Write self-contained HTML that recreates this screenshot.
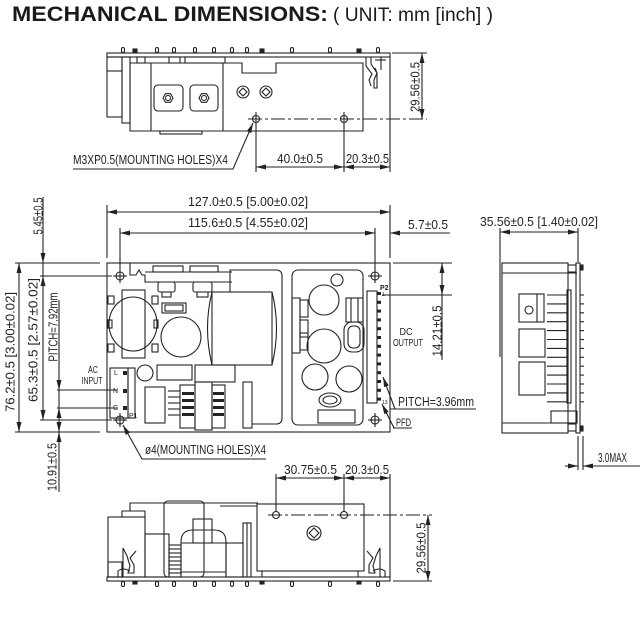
<!DOCTYPE html>
<html><head><meta charset="utf-8"><style>
html,body{margin:0;padding:0;background:#fff;}
svg{display:block;}
.d{font-family:"Liberation Sans",sans-serif;font-size:13px;fill:#222;}
</style></head><body>
<svg width="640" height="640" viewBox="0 0 640 640" xmlns="http://www.w3.org/2000/svg">
<defs>
<marker id="a" markerUnits="userSpaceOnUse" markerWidth="10" markerHeight="5" refX="10" refY="2.5" orient="auto-start-reverse" viewBox="0 0 10 5"><path d="M0,0L10,2.5L0,5z" fill="#222"/></marker>
</defs>
<rect width="640" height="640" fill="#fff"/>
<text x="12" y="21" font-family="Liberation Sans, sans-serif" font-weight="bold" font-size="21" fill="#1a1a1a" textLength="316" lengthAdjust="spacingAndGlyphs">MECHANICAL DIMENSIONS:</text>
<text x="333" y="21" font-family="Liberation Sans, sans-serif" font-size="19" fill="#1a1a1a" textLength="160" lengthAdjust="spacingAndGlyphs">( UNIT: mm [inch] )</text>

<g fill="none" stroke="#222" stroke-width="1.1">
<!-- ===== TOP VIEW ===== -->
<rect x="107" y="53" width="283" height="4"/>
<g>
<rect x="121.5" y="47.5" width="3" height="5" rx="1.5"/>
<rect x="155.5" y="47.5" width="3" height="5" rx="1.5"/>
<rect x="172.5" y="47.5" width="3" height="5" rx="1.5"/>
<rect x="193.5" y="47.5" width="3" height="5" rx="1.5"/>
<rect x="212.5" y="47.5" width="3" height="5" rx="1.5"/>
<rect x="230.5" y="47.5" width="3" height="5" rx="1.5"/>
<rect x="245.5" y="47.5" width="3" height="5" rx="1.5"/>
<rect x="290.5" y="47.5" width="3" height="5" rx="1.5"/>
<rect x="328.5" y="47.5" width="3" height="5" rx="1.5"/>
<rect x="376.5" y="47.5" width="3" height="5" rx="1.5"/>
<rect x="133" y="49" width="4" height="4" fill="#222"/>
<rect x="260" y="49" width="4" height="4" fill="#222"/>
<rect x="357" y="49" width="4" height="4" fill="#222"/>
</g>
<rect x="107" y="57" width="15" height="60"/>
<line x1="107" y1="71" x2="122" y2="71"/>
<rect x="122" y="57" width="8" height="66"/>
<path d="M130,63 H242 V73 H276 V63 H363 V131 H130 Z"/>
<rect x="137" y="57" width="8" height="6"/>
<rect x="169" y="57" width="11" height="6"/>
<rect x="185" y="57" width="40" height="6"/>
<line x1="151" y1="63" x2="151" y2="131"/>
<line x1="223" y1="63" x2="223" y2="131"/>
<rect x="160" y="131" width="42" height="3"/>
<rect x="154" y="85" width="29" height="26" rx="4"/>
<rect x="190" y="85" width="28" height="26" rx="4"/>
<polygon points="173,98 170.5,102.3 165.5,102.3 163,98 165.5,93.7 170.5,93.7"/>
<circle cx="168" cy="98" r="2.5"/>
<polygon points="209,98 206.5,102.3 201.5,102.3 199,98 201.5,93.7 206.5,93.7"/>
<circle cx="204" cy="98" r="2.5"/>
<circle cx="243" cy="92" r="6"/>
<path d="M243,88 L247,92 L243,96 L239,92 Z"/>
<circle cx="266" cy="92" r="6"/>
<path d="M266,88 L270,92 L266,96 L262,92 Z"/>
<circle cx="256" cy="119" r="3.5"/>
<circle cx="344" cy="119" r="3.5"/>
<line x1="248" y1="119" x2="427" y2="119" stroke-dasharray="14 3 3 3"/>
<path d="M366,57 V66 L372,74 L369,80 L371,86"/>
<path d="M371,57 V64 L377,73 L374,80 V88 H377 V73 L375,68"/>
<line x1="381" y1="57" x2="381" y2="70"/>
<line x1="375" y1="60" x2="386" y2="60"/>
<!-- top dims -->
<line x1="392" y1="53" x2="427" y2="53"/>
<line x1="422" y1="53" x2="422" y2="119" marker-start="url(#a)" marker-end="url(#a)"/>
<line x1="256" y1="112" x2="256" y2="172"/>
<line x1="344" y1="112" x2="344" y2="172"/>
<line x1="390" y1="57" x2="390" y2="172"/>
<line x1="256" y1="167" x2="344" y2="167" marker-start="url(#a)" marker-end="url(#a)"/>
<line x1="344" y1="167" x2="390" y2="167" marker-start="url(#a)" marker-end="url(#a)"/>
<polyline points="73,169 233,169 253,123" marker-end="url(#a)"/>

<!-- ===== MAIN VIEW ===== -->
<rect x="107" y="263" width="283" height="169"/>
<circle cx="120" cy="276" r="4"/><line x1="113" y1="276" x2="127" y2="276"/><line x1="120" y1="269" x2="120" y2="283"/>
<circle cx="375" cy="276" r="4"/><line x1="368" y1="276" x2="382" y2="276"/><line x1="375" y1="269" x2="375" y2="283"/>
<circle cx="120" cy="420" r="4"/><line x1="113" y1="420" x2="127" y2="420"/><line x1="120" y1="413" x2="120" y2="427"/>
<circle cx="375" cy="420" r="4"/><line x1="368" y1="420" x2="382" y2="420"/><line x1="375" y1="413" x2="375" y2="427"/>
<path d="M130,263 V275 L136,275 L139,270 L142,275 H145 V282 H232"/>
<line x1="145" y1="272" x2="232" y2="272"/>
<rect x="153" y="266" width="30" height="6"/>
<rect x="190" y="266" width="28" height="6"/>
<rect x="158" y="282" width="17" height="10" rx="2"/>
<rect x="193" y="282" width="19" height="10" rx="2"/>
<rect x="162" y="292" width="9" height="5"/>
<rect x="197" y="292" width="11" height="5"/>
<ellipse cx="133" cy="324" rx="24" ry="27"/>
<rect x="122" y="290" width="23" height="68"/>
<rect x="108" y="296" width="6" height="8"/>
<rect x="152" y="296" width="6" height="8"/>
<rect x="108" y="320" width="4" height="8"/>
<rect x="154" y="320" width="4" height="8"/>
<rect x="108" y="344" width="6" height="8"/>
<rect x="152" y="344" width="6" height="8"/>
<rect x="162" y="303" width="24" height="10"/>
<rect x="165" y="305" width="18" height="6"/>
<circle cx="181" cy="337" r="20"/>
<path d="M230,292 V270 H276 Q282,270 282,276 V418 Q282,424 276,424 H252"/>
<rect x="212" y="292" width="60" height="73"/>
<path d="M212,292 Q203,328 212,365 M272,292 Q281,328 272,365"/>
<circle cx="145" cy="373" r="8"/>
<rect x="157" y="365" width="35" height="15"/>
<rect x="195" y="365" width="40" height="17"/>
<rect x="145" y="387" width="20" height="36"/>
<rect x="180" y="385" width="15" height="43"/>
<rect x="195" y="382" width="17" height="48"/>
<rect x="212" y="385" width="13" height="43"/>
<rect x="243" y="382" width="9" height="46"/>
<line x1="168" y1="391" x2="180" y2="391"/><line x1="168" y1="397" x2="180" y2="397"/><line x1="168" y1="403" x2="180" y2="403"/><line x1="168" y1="409" x2="180" y2="409"/><line x1="168" y1="415" x2="180" y2="415"/>
<g fill="#222" stroke="none">
<rect x="182" y="392" width="12" height="3"/><rect x="182" y="399" width="12" height="3"/><rect x="182" y="406" width="12" height="3"/><rect x="182" y="413" width="12" height="3"/>
<rect x="213" y="392" width="11" height="3"/><rect x="213" y="399" width="11" height="3"/><rect x="213" y="406" width="11" height="3"/><rect x="213" y="413" width="11" height="3"/>
</g>
<rect x="110" y="368" width="18" height="50"/>
<rect x="128" y="368" width="7" height="50"/>
<rect x="292" y="270" width="71" height="155" rx="6"/>
<rect x="292" y="298" width="8" height="55"/>
<rect x="300" y="300" width="8" height="17"/>
<rect x="300" y="320" width="8" height="17"/>
<rect x="300" y="333" width="8" height="17"/>
<circle cx="337" cy="280" r="6"/>
<circle cx="324" cy="300" r="15"/>
<circle cx="324" cy="346" r="17"/>
<circle cx="315" cy="377" r="13"/>
<circle cx="349" cy="379" r="13"/>
<rect x="346" y="298" width="17" height="24"/>
<line x1="351" y1="298" x2="351" y2="322"/><line x1="358" y1="298" x2="358" y2="322"/>
<rect x="344" y="322" width="20" height="30" rx="8"/>
<rect x="348" y="326" width="12" height="22" rx="5"/>
<ellipse cx="330" cy="400" rx="11" ry="7"/>
<ellipse cx="330" cy="400" rx="7" ry="4"/>
<rect x="318" y="410" width="37" height="13"/>
<rect x="367" y="291" width="10" height="112"/>
<g fill="#222" stroke="none">
<rect x="377" y="292" width="4" height="3"/><rect x="377" y="300.8" width="4" height="3"/><rect x="377" y="309.6" width="4" height="3"/><rect x="377" y="318.4" width="4" height="3"/><rect x="377" y="327.2" width="4" height="3"/><rect x="377" y="336" width="4" height="3"/><rect x="377" y="344.8" width="4" height="3"/><rect x="377" y="353.6" width="4" height="3"/><rect x="377" y="362.4" width="4" height="3"/><rect x="377" y="371.2" width="4" height="3"/><rect x="377" y="380" width="4" height="3"/><rect x="377" y="388.8" width="4" height="3"/><rect x="377" y="397.6" width="4" height="3"/>
<rect x="123" y="371" width="4" height="4"/><rect x="123" y="389" width="4" height="4"/><rect x="123" y="406" width="4" height="4"/>
</g>

<line x1="107" y1="205" x2="107" y2="258"/>
<line x1="390" y1="205" x2="390" y2="258"/>
<line x1="120" y1="228" x2="120" y2="269"/>
<line x1="375" y1="228" x2="375" y2="269"/>
<line x1="107" y1="212" x2="390" y2="212" marker-start="url(#a)" marker-end="url(#a)"/>
<line x1="120" y1="233" x2="375" y2="233" marker-start="url(#a)" marker-end="url(#a)"/>
<line x1="450" y1="233" x2="390" y2="233" marker-end="url(#a)"/>
<line x1="15" y1="263" x2="100" y2="263"/>
<line x1="15" y1="432" x2="100" y2="432"/>
<line x1="40" y1="276" x2="112" y2="276"/>
<line x1="40" y1="420" x2="112" y2="420"/>
<line x1="57" y1="390" x2="117" y2="390"/>
<line x1="57" y1="408" x2="117" y2="408"/>
<line x1="19" y1="263" x2="19" y2="432" marker-start="url(#a)" marker-end="url(#a)"/>
<line x1="43" y1="197" x2="43" y2="263" marker-end="url(#a)"/>
<line x1="43" y1="263" x2="43" y2="276"/>
<line x1="43" y1="276" x2="43" y2="420" marker-start="url(#a)" marker-end="url(#a)"/>
<line x1="59" y1="300" x2="59" y2="390" marker-end="url(#a)"/>
<line x1="59" y1="390" x2="59" y2="408"/>
<line x1="59" y1="420" x2="59" y2="408" marker-end="url(#a)"/>
<line x1="59" y1="420" x2="59" y2="432" marker-end="url(#a)"/>
<line x1="59" y1="492" x2="59" y2="432" marker-end="url(#a)"/>
<line x1="393" y1="263" x2="452" y2="263"/>
<line x1="382" y1="295" x2="452" y2="295"/>
<line x1="442" y1="263" x2="442" y2="295" marker-start="url(#a)" marker-end="url(#a)"/>
<line x1="442" y1="295" x2="442" y2="360"/>
<line x1="390" y1="409" x2="476" y2="409"/>
<line x1="395" y1="409" x2="383" y2="377" marker-end="url(#a)"/>
<line x1="393" y1="428" x2="412" y2="428"/>
<line x1="394" y1="428" x2="382" y2="404" marker-end="url(#a)"/>
<polyline points="266,459 142,459 123,425" marker-end="url(#a)"/>

<!-- ===== SIDE VIEW ===== -->
<rect x="502" y="263" width="66" height="170"/>
<line x1="502" y1="273" x2="577" y2="273"/>
<line x1="502" y1="423" x2="577" y2="423"/>
<rect x="568" y="265" width="8" height="7"/>
<rect x="568" y="424" width="8" height="7"/>
<rect x="576" y="263" width="4" height="170"/>
<rect x="580" y="265" width="3" height="5" fill="#222"/>
<rect x="580" y="426" width="3" height="5" fill="#222"/>
<rect x="567" y="290" width="4" height="113"/>
<g>
<line x1="547" y1="295" x2="567" y2="295"/><line x1="547" y1="303.9" x2="567" y2="303.9"/><line x1="547" y1="312.8" x2="567" y2="312.8"/><line x1="547" y1="321.7" x2="567" y2="321.7"/><line x1="547" y1="330.6" x2="567" y2="330.6"/><line x1="547" y1="339.5" x2="567" y2="339.5"/><line x1="547" y1="348.4" x2="567" y2="348.4"/><line x1="547" y1="357.3" x2="567" y2="357.3"/><line x1="547" y1="366.2" x2="567" y2="366.2"/><line x1="547" y1="375.1" x2="567" y2="375.1"/><line x1="547" y1="384" x2="567" y2="384"/><line x1="547" y1="392.9" x2="567" y2="392.9"/><line x1="547" y1="401.8" x2="567" y2="401.8"/>
<line x1="580" y1="295" x2="584" y2="295"/><line x1="580" y1="303.9" x2="584" y2="303.9"/><line x1="580" y1="312.8" x2="584" y2="312.8"/><line x1="580" y1="321.7" x2="584" y2="321.7"/><line x1="580" y1="330.6" x2="584" y2="330.6"/><line x1="580" y1="339.5" x2="584" y2="339.5"/><line x1="580" y1="348.4" x2="584" y2="348.4"/><line x1="580" y1="357.3" x2="584" y2="357.3"/><line x1="580" y1="366.2" x2="584" y2="366.2"/><line x1="580" y1="375.1" x2="584" y2="375.1"/><line x1="580" y1="384" x2="584" y2="384"/><line x1="580" y1="392.9" x2="584" y2="392.9"/><line x1="580" y1="401.8" x2="584" y2="401.8"/>
</g>
<rect x="519" y="294" width="25" height="28"/>
<line x1="537" y1="294" x2="537" y2="322"/>
<circle cx="529" cy="310" r="4"/>
<rect x="519" y="329" width="26" height="28"/>
<rect x="519" y="362" width="26" height="33"/>
<rect x="551" y="411" width="26" height="12"/>
<line x1="500" y1="228" x2="500" y2="357"/>
<line x1="578" y1="228" x2="578" y2="262"/>
<line x1="500" y1="232" x2="578" y2="232" marker-start="url(#a)" marker-end="url(#a)"/>
<line x1="578" y1="436" x2="578" y2="470"/>
<line x1="583" y1="436" x2="583" y2="470"/>
<line x1="565" y1="466" x2="578" y2="466" marker-end="url(#a)"/>
<line x1="640" y1="466" x2="583" y2="466" marker-end="url(#a)"/>

<!-- ===== BOTTOM VIEW ===== -->
<rect x="107" y="577" width="283" height="4"/>
<g>
<rect x="121.5" y="581.5" width="3" height="5" rx="1.5"/>
<rect x="155.5" y="581.5" width="3" height="5" rx="1.5"/>
<rect x="172.5" y="581.5" width="3" height="5" rx="1.5"/>
<rect x="193.5" y="581.5" width="3" height="5" rx="1.5"/>
<rect x="212.5" y="581.5" width="3" height="5" rx="1.5"/>
<rect x="230.5" y="581.5" width="3" height="5" rx="1.5"/>
<rect x="245.5" y="581.5" width="3" height="5" rx="1.5"/>
<rect x="290.5" y="581.5" width="3" height="5" rx="1.5"/>
<rect x="328.5" y="581.5" width="3" height="5" rx="1.5"/>
<rect x="376.5" y="581.5" width="3" height="5" rx="1.5"/>
<rect x="133" y="581" width="4" height="3" fill="#222"/>
<rect x="260" y="581" width="4" height="3" fill="#222"/>
<rect x="357" y="581" width="4" height="3" fill="#222"/>
</g>
<rect x="108" y="517" width="37" height="60"/>
<rect x="108" y="562" width="14" height="15"/>
<path d="M122,517 V511 H145 V517"/>
<path d="M130,511 V503 H258"/>
<rect x="164" y="501" width="40" height="76" rx="4"/>
<line x1="220" y1="506" x2="257" y2="506"/>
<rect x="145" y="534" width="24" height="43"/>
<rect x="169" y="545" width="12" height="32"/>
<line x1="169" y1="549" x2="181" y2="549"/><line x1="169" y1="553" x2="181" y2="553"/><line x1="169" y1="557" x2="181" y2="557"/><line x1="169" y1="561" x2="181" y2="561"/><line x1="169" y1="565" x2="181" y2="565"/><line x1="169" y1="569" x2="181" y2="569"/><line x1="169" y1="573" x2="181" y2="573"/>
<path d="M181,577 V542 Q181,530 193,530 H214 Q226,530 226,542 V577"/>
<line x1="181" y1="543" x2="226" y2="543"/>
<line x1="181" y1="572" x2="226" y2="572"/>
<rect x="193" y="519" width="19" height="24"/>
<rect x="226" y="543" width="17" height="34"/>
<rect x="243" y="523" width="8" height="54"/>
<line x1="247" y1="523" x2="247" y2="577"/>
<rect x="257" y="504" width="107" height="67"/>
<line x1="262" y1="571" x2="262" y2="577"/>
<line x1="358" y1="571" x2="358" y2="577"/>
<path d="M123,577 V548 L127,556 L130,566 L128,573 H134 V565 L130,558 L136,551"/>
<path d="M118,577 V571 Q123,567 130,571"/>
<path d="M380,577 V548 L376,556 L373,566 L375,573 H369 V565 L373,558 L367,551"/>
<path d="M385,577 V571 Q380,567 373,571"/>
<circle cx="276" cy="515" r="3.5"/>
<circle cx="344" cy="515" r="3.5"/>
<line x1="268" y1="515" x2="432" y2="515" stroke-dasharray="14 3 3 3"/>
<circle cx="314" cy="533" r="7"/>
<path d="M314,528 L319,533 L314,538 L309,533 Z"/>
<line x1="276" y1="474" x2="276" y2="512"/>
<line x1="344" y1="474" x2="344" y2="512"/>
<line x1="390" y1="474" x2="390" y2="577"/>
<line x1="276" y1="478" x2="344" y2="478" marker-start="url(#a)" marker-end="url(#a)"/>
<line x1="344" y1="478" x2="390" y2="478" marker-start="url(#a)" marker-end="url(#a)"/>
<line x1="393" y1="581" x2="432" y2="581"/>
<line x1="428" y1="515" x2="428" y2="581" marker-start="url(#a)" marker-end="url(#a)"/>
</g>

<!-- ===== TEXT ===== -->
<g class="d">
<text class="d" transform="translate(419.5,87) rotate(-90)" text-anchor="middle" textLength="50" lengthAdjust="spacingAndGlyphs">29.56±0.5</text>
<text class="d" x="277" y="163" textLength="46" lengthAdjust="spacingAndGlyphs">40.0±0.5</text>
<text class="d" x="346" y="163" textLength="43" lengthAdjust="spacingAndGlyphs">20.3±0.5</text>
<text class="d" x="73" y="164" textLength="155" lengthAdjust="spacingAndGlyphs">M3XP0.5(MOUNTING HOLES)X4</text>

<text class="d" x="188" y="206" textLength="120" lengthAdjust="spacingAndGlyphs">127.0±0.5 [5.00±0.02]</text>
<text class="d" x="188" y="227" textLength="120" lengthAdjust="spacingAndGlyphs">115.6±0.5 [4.55±0.02]</text>
<text class="d" x="408" y="229" textLength="40" lengthAdjust="spacingAndGlyphs">5.7±0.5</text>
<text class="d" x="480" y="226" textLength="118" lengthAdjust="spacingAndGlyphs">35.56±0.5 [1.40±0.02]</text>

<text class="d" transform="translate(14.5,352) rotate(-90)" text-anchor="middle" textLength="120" lengthAdjust="spacingAndGlyphs">76.2±0.5 [3.00±0.02]</text>
<text class="d" transform="translate(37.5,340) rotate(-90)" text-anchor="middle" textLength="124" lengthAdjust="spacingAndGlyphs">65.3±0.5 [2.57±0.02]</text>
<text class="d" transform="translate(42.5,216) rotate(-90)" text-anchor="middle" textLength="37" lengthAdjust="spacingAndGlyphs">5.45±0.5</text>
<text class="d" transform="translate(57.5,327) rotate(-90)" text-anchor="middle" textLength="69" lengthAdjust="spacingAndGlyphs">PITCH=7.92mm</text>
<text class="d" transform="translate(56.5,467) rotate(-90)" text-anchor="middle" textLength="48" lengthAdjust="spacingAndGlyphs">10.91±0.5</text>
<text class="d" transform="translate(441.5,331) rotate(-90)" text-anchor="middle" textLength="51" lengthAdjust="spacingAndGlyphs">14.21±0.5</text>

<text x="93" y="373" font-family="Liberation Sans, sans-serif" font-size="10" fill="#222" text-anchor="middle" textLength="10" lengthAdjust="spacingAndGlyphs">AC</text>
<text x="92" y="384" font-family="Liberation Sans, sans-serif" font-size="10" fill="#222" text-anchor="middle" textLength="21" lengthAdjust="spacingAndGlyphs">INPUT</text>
<text x="406" y="335" font-family="Liberation Sans, sans-serif" font-size="10.5" fill="#222" text-anchor="middle" textLength="13" lengthAdjust="spacingAndGlyphs">DC</text>
<text x="408" y="346" font-family="Liberation Sans, sans-serif" font-size="10.5" fill="#222" text-anchor="middle" textLength="30" lengthAdjust="spacingAndGlyphs">OUTPUT</text>
<text class="d" x="398" y="406" textLength="76" lengthAdjust="spacingAndGlyphs">PITCH=3.96mm</text>
<text x="396" y="426" font-family="Liberation Sans, sans-serif" font-size="11" fill="#222" textLength="15" lengthAdjust="spacingAndGlyphs">PFD</text>
<text x="380" y="290" font-family="Liberation Sans, sans-serif" font-size="7" font-weight="bold" fill="#222">P2</text>
<text x="129" y="418" font-family="Liberation Sans, sans-serif" font-size="7" fill="#222">P1</text>
<text x="114" y="375" font-family="Liberation Sans, sans-serif" font-size="7" fill="#222">L</text>
<text x="113" y="393" font-family="Liberation Sans, sans-serif" font-size="7" fill="#222">N</text>
<text x="113" y="410" font-family="Liberation Sans, sans-serif" font-size="7" fill="#222">G</text>
<text x="382" y="296" font-family="Liberation Sans, sans-serif" font-size="5" fill="#222">1</text>
<text x="382" y="404" font-family="Liberation Sans, sans-serif" font-size="5" fill="#222">13</text>
<text class="d" x="145" y="454" textLength="121" lengthAdjust="spacingAndGlyphs">ø4(MOUNTING HOLES)X4</text>

<text class="d" x="284" y="474" textLength="53" lengthAdjust="spacingAndGlyphs">30.75±0.5</text>
<text class="d" x="345" y="474" textLength="44" lengthAdjust="spacingAndGlyphs">20.3±0.5</text>
<text class="d" transform="translate(425.5,548) rotate(-90)" text-anchor="middle" textLength="51" lengthAdjust="spacingAndGlyphs">29.56±0.5</text>
<text class="d" x="598" y="462" textLength="29" lengthAdjust="spacingAndGlyphs">3.0MAX</text>
</g>
</svg>
</body></html>
